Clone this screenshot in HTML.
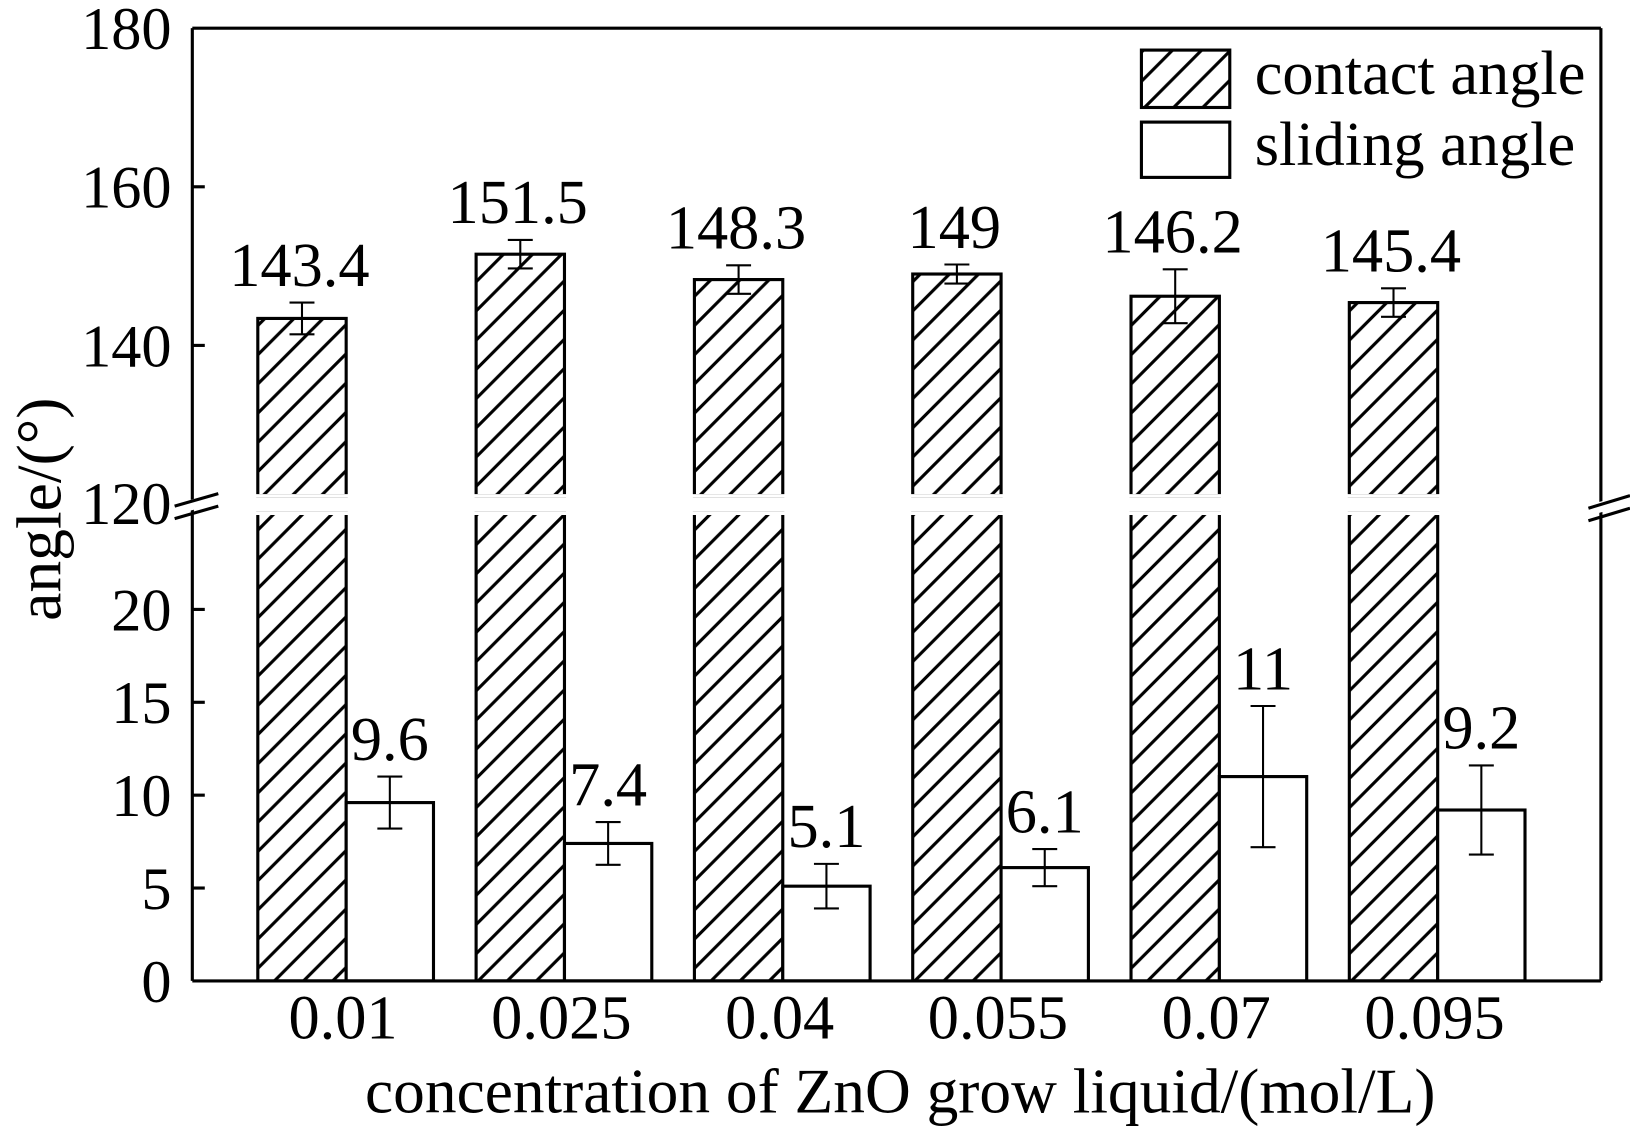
<!DOCTYPE html>
<html><head><style>html,body{margin:0;padding:0;background:#fff}svg{display:block}</style></head>
<body>
<svg width="1630" height="1127" viewBox="0 0 1568 1080" preserveAspectRatio="none" xmlns="http://www.w3.org/2000/svg" font-family="'Liberation Serif',serif">
<defs>
<pattern id="h" patternUnits="userSpaceOnUse" width="28" height="28">
<path d="M-7,35 L35,-7 M-21,21 L21,-21 M7,49 L49,7" stroke="#000" stroke-width="3"/>
</pattern>
</defs>
<g id="bars" stroke="#000" stroke-width="3"></g>
<g stroke="#000" stroke-width="3" fill="none">
<line x1="185" y1="27" x2="1540" y2="27"/>
<line x1="185" y1="940" x2="1540" y2="940"/>
<line x1="185" y1="27" x2="185" y2="940"/>
<line x1="1540" y1="27" x2="1540" y2="940"/>
<line x1="185" y1="179" x2="197" y2="179"/>
<line x1="185" y1="331" x2="197" y2="331"/>
<line x1="185" y1="584" x2="197" y2="584"/>
<line x1="185" y1="673" x2="197" y2="673"/>
<line x1="185" y1="762" x2="197" y2="762"/>
<line x1="185" y1="851" x2="197" y2="851"/>
<line x1="165" y1="489" x2="210" y2="477" stroke="#fff" stroke-width="10"/>
<line x1="168" y1="485" x2="210" y2="473"/>
<line x1="168" y1="497" x2="210" y2="485"/>
<line x1="1525" y1="490" x2="1568" y2="478" stroke="#fff" stroke-width="10"/>
<line x1="1528" y1="487" x2="1568" y2="475"/>
<line x1="1528" y1="499" x2="1568" y2="487"/>
</g>
<g font-size="58" text-anchor="end">
<text x="165" y="47">180</text>
<text x="165" y="199">160</text>
<text x="165" y="351">140</text>
<text x="165" y="502">120</text>
<text x="165" y="604">20</text>
<text x="165" y="693">15</text>
<text x="165" y="782">10</text>
<text x="165" y="871">5</text>
<text x="165" y="960">0</text>
</g>
<g font-size="60" text-anchor="middle" id="xl"></g>
<text x="866" y="1066" font-size="61" text-anchor="middle">concentration of ZnO grow liquid/(mol/L)</text>
<text transform="translate(58,488) rotate(-90)" font-size="61" text-anchor="middle">angle/(°)</text>
<rect x="1098" y="48" width="85" height="55" fill="url(#h)" stroke="#000" stroke-width="3"/>
<rect x="1098" y="117" width="85" height="53" fill="#fff" stroke="#000" stroke-width="3"/>
<text x="1207" y="90" font-size="60">contact angle</text>
<text x="1207" y="158" font-size="60">sliding angle</text>
<script>
var ns="http://www.w3.org/2000/svg",g=document.getElementById('bars'),xl=document.getElementById('xl');
var C=[[143.4,2],[151.5,1.8],[148.3,1.8],[149,1.2],[146.2,3.4],[145.4,1.8]];
var S=[[9.6,1.4],[7.4,1.15],[5.1,1.2],[6.1,1],[11,3.8],[9.2,2.4]];
var L=["0.01","0.025","0.04","0.055","0.07","0.095"];
var cl=["143.4","151.5","148.3","149","146.2","145.4"],sl=["9.6","7.4","5.1","6.1","11","9.2"];
function uy(v){return 27+(180-v)*7.6}function ly(v){return 940-v*17.8}
function el(t,a,p){var e=document.createElementNS(ns,t);for(var k in a)e.setAttribute(k,a[k]);(p||g).appendChild(e);return e}
function eb(x,y1,y2){el('line',{x1:x,y1:y1,x2:x,y2:y2,'stroke-width':2});el('line',{x1:x-12,y1:y1,x2:x+12,y2:y1,'stroke-width':2});el('line',{x1:x-12,y1:y2,x2:x+12,y2:y2,'stroke-width':2});}
for(var i=0;i<6;i++){
 var x=248+210*i;
 var t=uy(C[i][0]);
 el('rect',{x:x,y:t,width:85,height:475-t,fill:'url(#h)'});
 el('line',{x1:x-2,y1:475,x2:x+87,y2:475,stroke:'#fff','stroke-width':3});
 el('rect',{x:x,y:492,width:85,height:448,fill:'url(#h)'});
 el('line',{x1:x-2,y1:492,x2:x+87,y2:492,stroke:'#fff','stroke-width':3});
 eb(x+42.5,uy(C[i][0]+C[i][1]),uy(C[i][0]-C[i][1]));
 var s=ly(S[i][0]);
 el('rect',{x:x+85,y:s,width:84,height:940-s,fill:'#fff'});
 eb(x+127,ly(S[i][0]+S[i][1]),ly(S[i][0]-S[i][1]));
 var tx=el('text',{x:x+40,y:uy(C[i][0]+C[i][1])-16,'text-anchor':'middle','font-size':60,stroke:'none'});tx.textContent=cl[i];
 var ts=el('text',{x:x+127,y:ly(S[i][0]+S[i][1])-16,'text-anchor':'middle','font-size':60,stroke:'none'});ts.textContent=sl[i];
 var tl=el('text',{x:x+82,y:995},xl);tl.textContent=L[i];
}
</script>
</svg>
</body></html>
